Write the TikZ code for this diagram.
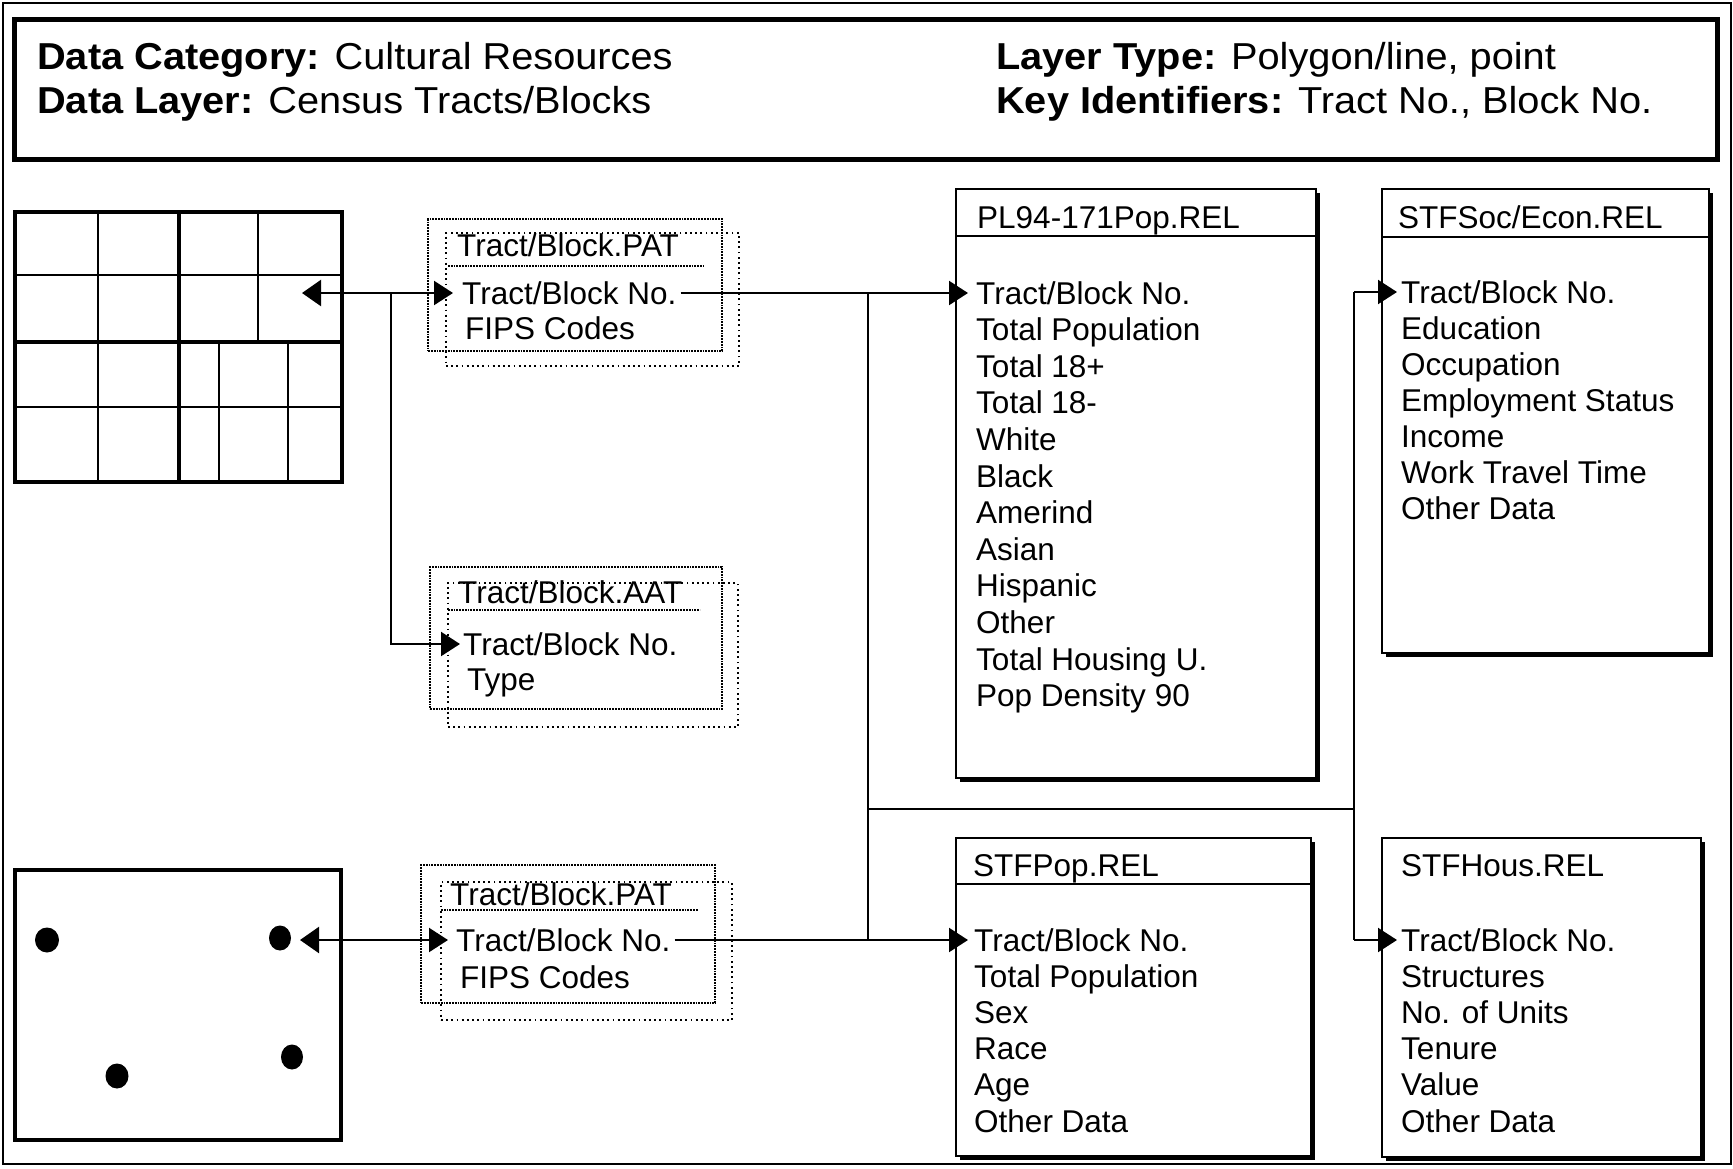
\documentclass[tikz,border=0pt]{standalone}
\usepackage{fontspec}
\usepackage{graphicx}
\setmainfont{Liberation Sans}
\usetikzlibrary{arrows.meta,shadows}
\begin{document}
\begin{tikzpicture}[x=1pt,y=-1pt,
  txt/.style={anchor=base west, inner sep=0pt, text height=22pt, text depth=0pt, font=\fontsize{31.5}{36}\selectfont},
  ttl/.style={anchor=base west, inner sep=0pt, font=\fontsize{31.5}{36}\selectfont},
  hdrtxt/.style={anchor=base west, inner sep=0pt, font=\fontsize{37.5}{43}\selectfont},
  relbox/.style={draw, line width=2.2pt, fill=white, anchor=north west, inner sep=0pt,
     drop shadow={shadow xshift=4pt, shadow yshift=-4pt, opacity=1, fill=black}},
  mapbox/.style={draw, line width=4pt, anchor=north west, inner sep=0pt},
  dotf/.style={draw, line width=2.2pt, dash pattern=on 1.8pt off 1pt, anchor=north west, inner sep=0pt},
  dotb/.style={draw, line width=1.8pt, dash pattern=on 1.8pt off 3.4pt, anchor=north west, inner sep=0pt},
  dotline/.style={line width=2pt, dash pattern=on 1.8pt off 1pt},
  conn/.style={line width=2.2pt},
  arr/.style={conn, -{Triangle[length=19pt,width=24pt]}},
  darr/.style={conn, {Triangle[length=19pt,width=26pt]}-{Triangle[length=19pt,width=24pt]}},
  gridthin/.style={line width=2.2pt},
  gridthick/.style={line width=3.4pt}
]
\useasboundingbox (0,0) rectangle (1733,1168);
\fill[white] (0,0) rectangle (1733,1168);

% outer frame and header
\node[draw, line width=2pt, minimum width=1728pt, minimum height=1161pt, anchor=north west, inner sep=0pt] (frame) at (2,2) {};
\node[draw, line width=5pt, minimum width=1703pt, minimum height=140pt, anchor=north west, inner sep=0pt] (hdr) at (12,17) {};
\node[hdrtxt] (h1) at (37,69) {\scalebox{1.06}[1]{\textbf{Data Category:} Cultural Resources}};
\node[hdrtxt] (h2) at (37,113) {\scalebox{1.06}[1]{\textbf{Data Layer:} Census Tracts/Blocks}};
\node[hdrtxt] (h3) at (996,69) {\scalebox{1.06}[1]{\textbf{Layer Type:} Polygon/line, point}};
\node[hdrtxt] (h4) at (996,113) {\scalebox{1.06}[1]{\textbf{Key Identifiers:} Tract No., Block No.}};

% polygon map
\node[mapbox, minimum width=327pt, minimum height=270pt] (map1) at (13,210) {};
\draw[gridthin] (98,210) -- (98,480);
\draw[gridthick] (179,210) -- (179,480);
\draw[gridthin] (258,210) -- (258,342);
\draw[gridthin] (219,342) -- (219,480);
\draw[gridthin] (288,342) -- (288,480);
\draw[gridthin] (13,275) -- (340,275);
\draw[gridthick] (13,342) -- (340,342);
\draw[gridthin] (13,407) -- (340,407);
\coordinate (m1tip) at (302,293);

% point map
\node[mapbox, minimum width=326pt, minimum height=270pt] (map2) at (13,868) {};
\fill (47,940) ellipse (12pt and 12.5pt);
\fill (280,938) ellipse (11pt and 12.5pt);
\fill (117,1076) ellipse (11.5pt and 12.5pt);
\fill (292,1057) ellipse (11pt and 12.5pt);
\coordinate (m2tip) at (300,940);

% PAT / AAT dotted tables
\node[dotf, minimum width=294pt, minimum height=132pt] (pat1f) at (427,218) {};
\node[dotb, minimum width=293pt, minimum height=133pt] (pat1b) at (445,232) {};
\draw[dotline] (448,266) -- (703,266);
\node[ttl] (p1t) at (457,256) {Tract/Block.PAT};
\node[txt] (p1k) at (462,304) {Tract/Block No.};
\node[txt] (p1f) at (465,339) {FIPS Codes};

\node[dotf, minimum width=292pt, minimum height=142pt] (aatf) at (429,566) {};
\node[dotb, minimum width=290pt, minimum height=144pt] (aatb) at (447,582) {};
\draw[dotline] (448,610) -- (700,610);
\node[ttl] (at) at (458,603) {Tract/Block.AAT};
\node[txt] (aatk) at (463,655) {Tract/Block No.};
\node[txt] (aaty) at (467,690) {Type};

\node[dotf, minimum width=294pt, minimum height=138pt] (pat2f) at (420,864) {};
\node[dotb, minimum width=291pt, minimum height=138pt] (pat2b) at (440,881) {};
\draw[dotline] (441,910) -- (698,910);
\node[ttl] (p2t) at (450,905) {Tract/Block.PAT};
\node[txt] (p2k) at (456,951) {Tract/Block No.};
\node[txt] (p2f) at (460,988) {FIPS Codes};

% REL tables
\node[relbox, minimum width=360pt, minimum height=589pt] (pl) at (955,188) {};
\draw[line width=2pt] ([yshift=-48pt]pl.north west) -- ([yshift=-48pt]pl.north east);
\node[ttl] (plt) at (977,228) {PL94-171Pop.REL};
\foreach \t [count=\i from 1] in {Tract/Block No., Total Population, Total 18+, Total 18-, White, Black, Amerind, Asian, Hispanic, Other, Total Housing U., Pop Density 90}
  \node[txt] (pl\i) at (976,{304+36.6*(\i-1)}) {\t};

\node[relbox, minimum width=327pt, minimum height=464pt] (soc) at (1381,188) {};
\draw[line width=2pt] ([yshift=-49pt]soc.north west) -- ([yshift=-49pt]soc.north east);
\node[ttl] (soct) at (1398,228) {STFSoc/Econ.REL};
\foreach \t [count=\i from 1] in {Tract/Block No., Education, Occupation, Employment Status, Income, Work Travel Time, Other Data}
  \node[txt] (soc\i) at (1401,{303+36*(\i-1)}) {\t};

\node[relbox, minimum width=355pt, minimum height=318pt] (pop) at (955,837) {};
\draw[line width=2pt] ([yshift=-47pt]pop.north west) -- ([yshift=-47pt]pop.north east);
\node[ttl] (popt) at (973,876) {STFPop.REL};
\foreach \t [count=\i from 1] in {Tract/Block No., Total Population, Sex, Race, Age, Other Data}
  \node[txt] (pop\i) at (974,{951+36.2*(\i-1)}) {\t};

\node[relbox, minimum width=319pt, minimum height=319pt] (hous) at (1381,837) {};
\node[ttl] (houst) at (1401,876) {STFHous.REL};
\foreach \t [count=\i from 1] in {Tract/Block No., Structures, No. of Units, Tenure, Value, Other Data}
  \node[txt] (hous\i) at (1401,{951+36.2*(\i-1)}) {\t};

% connectors
\coordinate (bV) at (391,293);
\coordinate (bA) at (868,293);
\coordinate (bB) at (868,809);
\coordinate (bC) at (1354,809);

\draw[darr] (m1tip) -- ([xshift=-9pt]p1k.west);
\draw[arr] (bV) |- ([xshift=-3pt]aatk.west);
\draw[darr] (m2tip) -- ([xshift=-8pt]p2k.west);

\draw[arr] ([xshift=4pt]p1k.east) -- ([xshift=-8pt]pl1.west);
\draw[conn] (bA) -- (bA |- pop1.west);
\draw[arr] ([xshift=4pt]p2k.east) -- ([xshift=-6pt]pop1.west);
\draw[conn] (bB) -- (bC);
\draw[conn] (bC |- soc1.west) -- (bC |- hous1.west);
\draw[arr] (bC |- soc1.west) -- ([xshift=-4pt]soc1.west);
\draw[arr] (bC |- hous1.west) -- ([xshift=-4pt]hous1.west);
\end{tikzpicture}
\end{document}
